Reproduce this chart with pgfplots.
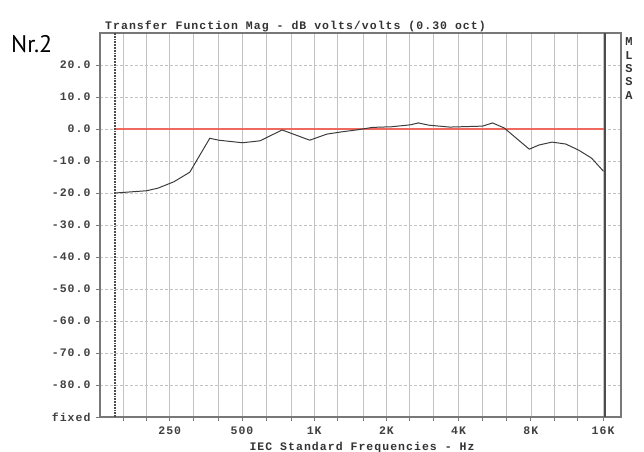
\documentclass[border=0pt]{standalone}
\usepackage{pgfplots}
\pgfplotsset{compat=1.18}
\usepackage{fontspec}
\setmainfont{Liberation Sans}
\newfontfamily\monof{Liberation Mono}[LetterSpace=9]
\newfontfamily\nrfont{PT Sans}
\definecolor{gridc}{RGB}{195,195,195}
\definecolor{framec}{RGB}{120,120,120}
\definecolor{curvec}{RGB}{60,60,60}
\definecolor{redc}{RGB}{240,105,95}
\begin{document}
\begin{tikzpicture}
\useasboundingbox (0bp,0bp) rectangle (644bp,452bp);
\begin{axis}[
  at={(100bp,35bp)}, anchor=south west,
  scale only axis, width=521bp, height=384bp,
  xmode=log, xmin=128, xmax=19000, ymin=-90, ymax=30,
  axis line style={draw=framec, line width=1.1pt},
  xtick={250,500,1000,2000,4000,8000,16000},
  xticklabels={250,500,1K,2K,4K,8K,16K},
  minor xtick={160,200,315,400,630,800,1250,1600,2500,3150,5000,6300,10000,12500},
  ytick={-90,-80,...,20},
  yticklabels={fixed,-80.0,-70.0,-60.0,-50.0,-40.0,-30.0,-20.0,-10.0,0.0,10.0,20.0},
  xtick pos=bottom, ytick pos=left,
  tick align=outside,
  major tick length=4bp, minor tick length=4bp,
  every tick/.style={draw=framec, line width=0.8pt},
  grid=both,
  x grid style={draw=gridc, line width=0.7pt},
  y grid style={draw=gridc, line width=0.7pt, densely dashed},
  ticklabel style={font=\monof\bfseries\fontsize{11.5bp}{12bp}\selectfont, text=black!75},
  yticklabel style={xshift=-2bp},
  xticklabel style={yshift=-2bp},
  clip=false,
]
\addplot[redc, line width=2pt] coordinates {(148,0) (16300,0)};
\addplot[curvec, line width=1pt] coordinates {
(148,-20) (200,-19.3) (223,-18.5) (260,-16.5) (303,-13.5) (367,-2.9) (400,-3.5)
(502,-4.3) (594,-3.7) (735,-0.3) (958,-3.5) (1129,-1.6) (1300,-0.9) (1500,-0.3)
(1748,0.5) (2100,0.7) (2515,1.3) (2717,1.9) (3000,1.2) (3672,0.6) (5030,0.9)
(5540,1.9) (6200,0.3) (6960,-2.9) (7880,-6.3) (8650,-5) (9800,-4.1) (11180,-4.7)
(12650,-6.6) (14320,-9.1) (16060,-13.2)};
\addplot[black!70, line width=1.8pt, densely dotted] coordinates {(148,-90) (148,30)};
\addplot[black!70, line width=1.6pt] coordinates {(16300,-90) (16300,30)};
\end{axis}
\node[anchor=base west, font=\monof\bfseries\fontsize{11.5bp}{12bp}\selectfont, text=black!80, inner sep=0pt] at (105bp,422bp) {Transfer Function Mag - dB volts/volts (0.30 oct)};
\node[anchor=center, font=\monof\bfseries\fontsize{11.5bp}{12bp}\selectfont, text=black!80, inner sep=0pt] at (362bp,4bp) {IEC Standard Frequencies - Hz};
\node[anchor=base west, font=\nrfont\fontsize{24bp}{26bp}\selectfont, inner sep=0pt] at (11bp,399bp) {Nr.2};
\foreach \l/\yy in {M/410,L/396.7,S/383.4,S/370.1,A/356.8}
  \node[anchor=center, font=\monof\bfseries\fontsize{12bp}{12bp}\selectfont, text=black!80, inner sep=0pt] at (629bp,\yy bp) {\l};
\end{tikzpicture}
\end{document}
